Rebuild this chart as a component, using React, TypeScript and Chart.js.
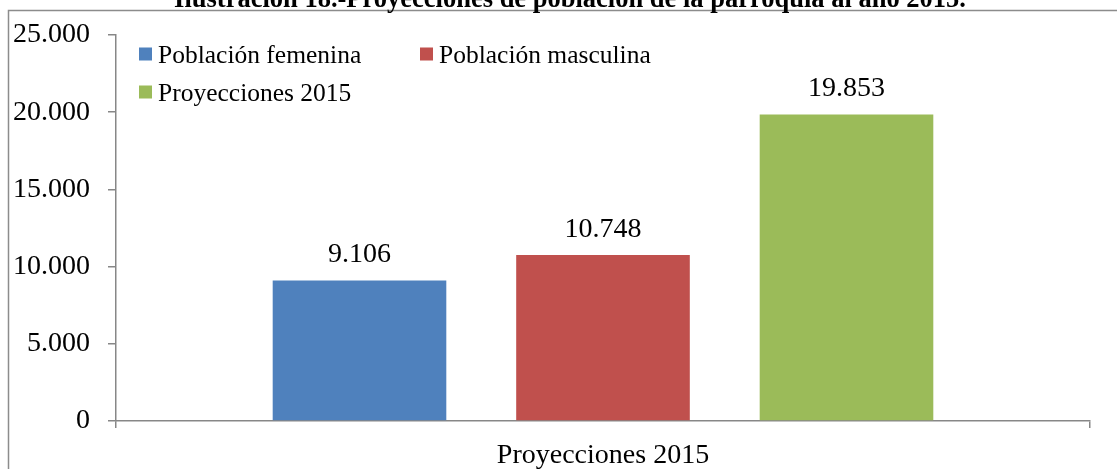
import React, { useEffect, useRef } from 'react';
import { Chart, registerables } from 'chart.js';

Chart.register(...registerables);

const chartTitle = 'Ilustración 18.-Proyecciones de población de la parroquia al año 2015.';
const categories = ['Proyecciones 2015'];
const seriesNames = ['Población femenina', 'Población masculina', 'Proyecciones 2015'];
const femenina = [9106];
const masculina = [10748];
const proyecciones = [19853];
const seriesColors = ['#4F81BD', '#C0504D', '#9BBB59'];
const yTicks = [0, 5000, 10000, 15000, 20000, 25000];

const FONT = '"Liberation Serif", "Times New Roman", serif';

function fmt(n: number): string {
  return String(n).replace(/\B(?=(\d{3})+(?!\d))/g, '.');
}

const decorPlugin = {
  id: 'decor',
  beforeDraw(chart: any) {
    const ctx = chart.ctx;
    ctx.save();
    ctx.fillStyle = '#ffffff';
    ctx.fillRect(0, 0, chart.width, chart.height);
    ctx.strokeStyle = '#8c8c8c';
    ctx.lineWidth = 1.5;
    ctx.beginPath();
    ctx.moveTo(8.5, chart.height);
    ctx.lineTo(8.5, 10.5);
    ctx.lineTo(chart.width, 10.5);
    ctx.stroke();
    ctx.font = 'bold 26.5px ' + FONT;
    ctx.fillStyle = '#000';
    ctx.textAlign = 'center';
    ctx.textBaseline = 'alphabetic';
    ctx.fillText(chartTitle, 570, 6.5);
    ctx.restore();
  },
  afterDatasetsDraw(chart: any) {
    const ctx = chart.ctx;
    ctx.save();
    ctx.fillStyle = '#000';
    ctx.textAlign = 'center';
    ctx.textBaseline = 'alphabetic';
    ctx.font = '28px ' + FONT;
    chart.data.datasets.forEach((ds: any, i: number) => {
      const meta = chart.getDatasetMeta(i);
      meta.data.forEach((bar: any, j: number) => {
        ctx.fillText(fmt(ds.data[j]), bar.x, bar.y - 18);
      });
    });
    // legend inside plot area
    const colX = [139, 420, 139];
    const rowIdx = [0, 0, 1];
    ctx.font = '25.5px ' + FONT;
    ctx.textAlign = 'left';
    chart.data.datasets.forEach((ds: any, i: number) => {
      const x = colX[i];
      const top = 47.5 + rowIdx[i] * 38;
      ctx.fillStyle = ds.backgroundColor;
      ctx.fillRect(x, top, 13, 13);
      ctx.fillStyle = '#000';
      ctx.fillText(ds.label, x + 19, top + 15);
    });
    ctx.restore();
  },
};

export default function App() {
  const ref = useRef<HTMLCanvasElement | null>(null);
  useEffect(() => {
    if (!ref.current) return;
    const series = [femenina, masculina, proyecciones];
    const chart = new Chart(ref.current, {
      type: 'bar',
      data: {
        labels: categories,
        datasets: series.map((d, i) => ({
          label: seriesNames[i],
          data: d,
          backgroundColor: seriesColors[i],
          borderWidth: 0,
          categoryPercentage: 0.75,
          barPercentage: 0.713,
        })),
      },
      options: {
        responsive: false,
        animation: false,
        devicePixelRatio: 1,
        layout: { padding: { top: 35, right: 27, left: 0, bottom: 0 } },
        plugins: {
          legend: { display: false },
          title: { display: false },
          tooltip: { enabled: false },
        },
        scales: {
          x: {
            grid: {
              display: true,
              drawOnChartArea: false,
              drawTicks: true,
              tickLength: 7,
              color: '#878787',
              lineWidth: 1.5,
            },
            border: { display: true, color: '#878787', width: 1.5 },
            ticks: {
              color: '#000',
              font: { family: FONT, size: 28 },
              padding: 11,
            },
            afterFit: (s: any) => {
              s.height = 48;
            },
          },
          y: {
            min: 0,
            max: 25000,
            afterBuildTicks: (s: any) => {
              s.ticks = yTicks.map((v) => ({ value: v }));
            },
            grid: {
              display: true,
              drawOnChartArea: false,
              drawTicks: true,
              tickLength: 8,
              color: '#878787',
              lineWidth: 1.5,
            },
            border: { display: true, color: '#878787', width: 1.5 },
            ticks: {
              color: '#000',
              font: { family: FONT, size: 28 },
              padding: 18,
              callback: (v: any) => fmt(Number(v)),
            },
            afterFit: (s: any) => {
              s.width = 116;
            },
          },
        },
      },
      plugins: [decorPlugin],
    });
    return () => chart.destroy();
  }, []);
  return (
    <div style={{ position: 'fixed', left: 0, top: 0, width: 1117, height: 469, overflow: 'hidden', background: '#fff' }}>
      <canvas ref={ref} width={1117} height={469} style={{ display: 'block', width: 1117, height: 469 }} />
    </div>
  );
}
